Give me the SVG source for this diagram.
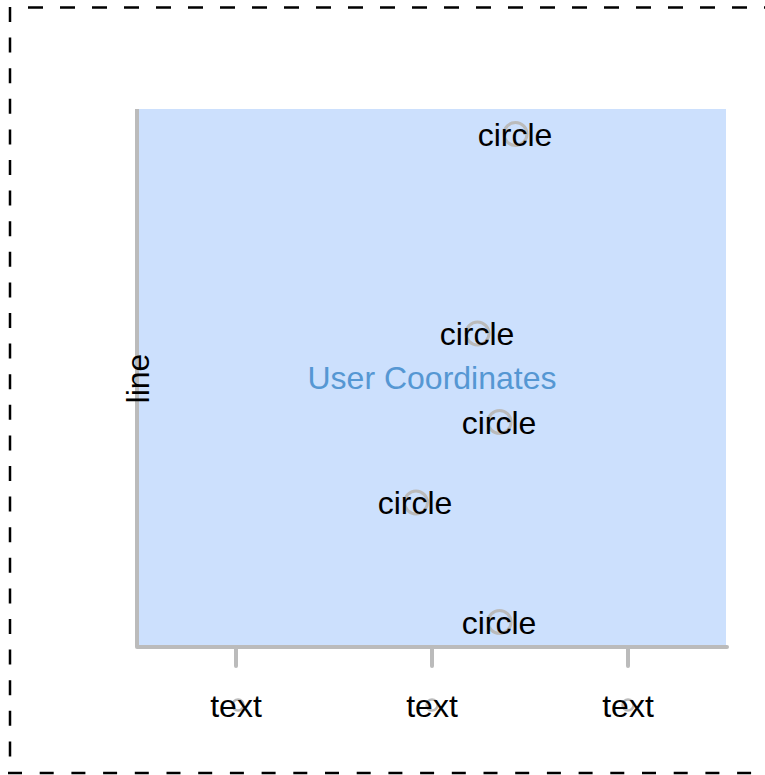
<svg xmlns="http://www.w3.org/2000/svg" width="765" height="775" viewBox="0 0 765 775">
<style>
.border{stroke:#000;stroke-width:2.5;fill:none}
.axis{stroke:#bbbbbb;stroke-width:4;fill:none;stroke-linecap:round}
.mark{stroke:#bbbbbb;stroke-width:3;fill:none}
.small{stroke:#bbbbbb;stroke-width:2.5;fill:none}
.lbl{font-family:"Liberation Sans",Arial,sans-serif;font-size:32px;fill:#000;text-anchor:middle}
.title{font-family:"Liberation Sans",Arial,sans-serif;font-size:32px;fill:#5597d3;text-anchor:middle}
</style>
<rect width="765" height="775" fill="#fff"/>
<g id="frame">
<line class="border" x1="28" y1="7.5" x2="765" y2="7.5" stroke-dasharray="15 17"/>
<line class="border" x1="10" y1="7" x2="10" y2="760" stroke-dasharray="15 15.6"/>
<line class="border" x1="8" y1="773" x2="765" y2="773" stroke-dasharray="14 17.7"/>
</g>
<g id="plot">
<rect x="137" y="109" width="589" height="538" fill="#cce0fd"/>
</g>
<g id="connectors">
<line class="axis" x1="137" y1="109" x2="137" y2="647" style="stroke-linecap:butt"/>
<line class="axis" x1="137" y1="647" x2="727" y2="647"/>
<line class="axis" x1="236" y1="649" x2="236" y2="666"/>
<line class="axis" x1="432" y1="649" x2="432" y2="666"/>
<line class="axis" x1="628" y1="649" x2="628" y2="666"/>
</g>
<g id="title"><text class="title" x="432" y="389">User Coordinates</text></g>
<g id="yaxis-label"><text class="lbl" transform="translate(149,378.5) rotate(-90)">line</text></g>
<g id="circle1"><circle class="mark" cx="515.5" cy="134" r="11.5"/><text class="lbl" x="515" y="146">circle</text></g>
<g id="circle2"><circle class="mark" cx="477.5" cy="333.5" r="11.5"/><text class="lbl" x="477" y="345">circle</text></g>
<g id="circle3"><circle class="mark" cx="499.5" cy="422" r="11.5"/><text class="lbl" x="499" y="434">circle</text></g>
<g id="circle4"><circle class="mark" cx="416" cy="502.5" r="11.5"/><text class="lbl" x="415" y="514">circle</text></g>
<g id="circle5"><circle class="mark" cx="499.5" cy="622" r="11.5"/><text class="lbl" x="499" y="634">circle</text></g>
<g id="tick1"><circle class="small" cx="238" cy="705" r="5.5"/><text class="lbl" x="236" y="717">text</text></g>
<g id="tick2"><circle class="small" cx="432" cy="705" r="5.5"/><text class="lbl" x="432" y="717">text</text></g>
<g id="tick3"><circle class="small" cx="628" cy="705" r="5.5"/><text class="lbl" x="628" y="717">text</text></g>
</svg>
